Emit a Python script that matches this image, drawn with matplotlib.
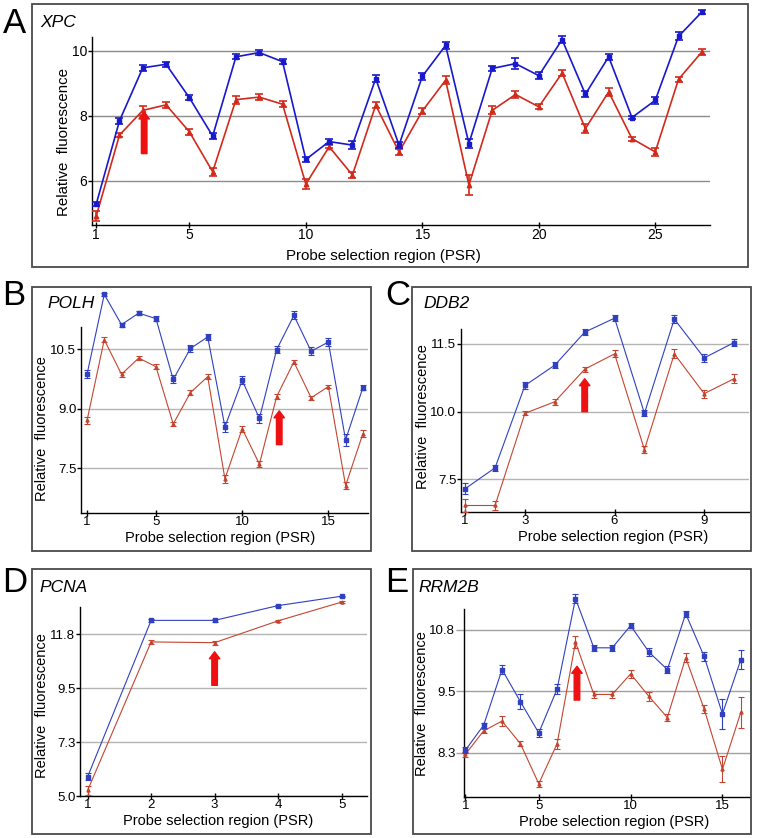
import numpy as np
import matplotlib
matplotlib.use("Agg")
import matplotlib.pyplot as plt
from matplotlib.patches import Rectangle
from matplotlib.ticker import NullLocator

plt.rcParams['font.family'] = ['Liberation Sans', 'DejaVu Sans']

# ---- data ----
# A  XPC
xpc_blue = [5.28, 7.85, 9.48, 9.59, 8.56, 7.38, 9.82, 9.95, 9.67, 6.66, 7.21, 7.10, 9.15, 7.10,
            9.22, 10.17, 7.15, 9.46, 9.61, 9.24, 10.35, 8.67, 9.82, 7.95, 8.48, 10.45, 11.2]
xpc_blue_err = [0.07, 0.1, 0.1, 0.08, 0.08, 0.08, 0.08, 0.07, 0.07, 0.08, 0.08, 0.12, 0.1, 0.1,
                0.1, 0.12, 0.15, 0.08, 0.16, 0.1, 0.1, 0.1, 0.1, 0.06, 0.1, 0.12, 0.07]
xpc_red = [4.91, 7.41, 8.17, 8.34, 7.51, 6.28, 8.50, 8.58, 8.36, 5.90, 7.05, 6.18, 8.33, 6.89,
           8.15, 9.10, 5.87, 8.17, 8.66, 8.28, 9.32, 7.61, 8.74, 7.30, 6.89, 9.13, 9.97]
xpc_red_err = [0.15, 0.07, 0.15, 0.1, 0.1, 0.12, 0.12, 0.1, 0.1, 0.15, 0.05, 0.08, 0.1, 0.1,
               0.1, 0.12, 0.3, 0.12, 0.12, 0.08, 0.1, 0.15, 0.12, 0.06, 0.12, 0.08, 0.08]

# B  POLH
polh_blue = [9.87, 11.88, 11.12, 11.41, 11.27, 9.74, 10.52, 10.81, 8.55, 9.72, 8.76, 10.49,
             11.35, 10.45, 10.68, 8.22, 9.53]
polh_blue_err = [0.1, 0.03, 0.05, 0.06, 0.06, 0.1, 0.08, 0.08, 0.12, 0.1, 0.12, 0.08, 0.1,
                 0.1, 0.1, 0.15, 0.06]
polh_red = [8.71, 10.74, 9.87, 10.28, 10.06, 8.62, 9.41, 9.81, 7.24, 8.50, 7.61, 9.31, 10.18,
            9.28, 9.56, 7.07, 8.37]
polh_red_err = [0.08, 0.07, 0.07, 0.06, 0.06, 0.06, 0.06, 0.06, 0.1, 0.07, 0.07, 0.06, 0.05,
                0.05, 0.04, 0.08, 0.09]

# C  DDB2
ddb2_blue = [7.16, 7.93, 10.58, 11.03, 11.76, 12.07, 9.94, 12.05, 11.19, 11.53]
ddb2_blue_err = [0.2, 0.1, 0.07, 0.07, 0.07, 0.07, 0.1, 0.08, 0.09, 0.08]
ddb2_red = [6.54, 6.54, 9.94, 10.22, 10.94, 11.28, 8.60, 11.28, 10.40, 10.73]
ddb2_red_err = [0.25, 0.15, 0.08, 0.07, 0.06, 0.08, 0.12, 0.1, 0.09, 0.1]

# D  PCNA
pcna_blue = [5.82, 12.39, 12.39, 13.02, 13.42]
pcna_blue_err = [0.15, 0.06, 0.06, 0.04, 0.03]
pcna_red = [5.24, 11.47, 11.44, 12.37, 13.17]
pcna_red_err = [0.2, 0.08, 0.08, 0.05, 0.04]

# E  RRM2B
rrm2b_blue = [8.35, 8.84, 9.96, 9.30, 8.69, 9.55, 11.46, 10.42, 10.42, 10.89, 10.33, 9.96,
              11.14, 10.24, 9.06, 10.17]
rrm2b_blue_err = [0.06, 0.05, 0.1, 0.15, 0.08, 0.1, 0.1, 0.06, 0.06, 0.06, 0.08, 0.07, 0.06,
                  0.1, 0.3, 0.2]
rrm2b_red = [8.27, 8.73, 8.92, 8.48, 7.70, 8.48, 10.54, 9.44, 9.44, 9.87, 9.40, 8.99, 10.21,
             9.16, 7.98, 9.09]
rrm2b_red_err = [0.05, 0.04, 0.1, 0.05, 0.06, 0.1, 0.12, 0.06, 0.06, 0.08, 0.08, 0.07, 0.1,
                 0.08, 0.25, 0.3]

# y tick labels (gridlines equally spaced in the original) and x ticks
xpc_yticks = [6, 8, 10]
polh_yticks = [7.5, 9.0, 10.5]
ddb2_yticks = [7.5, 10.0, 11.5]
pcna_yticks = [5.0, 7.3, 9.5, 11.8]
rrm2b_yticks = [8.3, 9.5, 10.8]
xpc_xticks = [1, 5, 10, 15, 20, 25]
polh_xticks = [1, 5, 10, 15]
ddb2_xticks = [1, 3, 6, 9]
pcna_xticks = [1, 2, 3, 4, 5]
rrm2b_xticks = [1, 5, 10, 15]

# red arrows: (PSR, tail, head)
xpc_arrow = (3.06, 6.84, 8.12)
polh_arrow = (12.15, 8.10, 8.95)
ddb2_arrow = (5.0, 10.0, 10.73)
pcna_arrow = (3.0, 9.62, 11.05)
rrm2b_arrow = (7.08, 9.33, 10.03)

W, H = 757, 838
fig = plt.figure(figsize=(W / 100, H / 100), dpi=100)


def px_axes(l, t, r, b):
    return fig.add_axes([l / W, 1 - b / H, (r - l) / W, (b - t) / H])


def box(l, t, r, b):
    fig.add_artist(Rectangle((l / W, 1 - b / H), (r - l) / W, (b - t) / H,
                             transform=fig.transFigure, fill=False,
                             edgecolor='#4a4a4a', linewidth=1.3))


def grid_scale(ticks):
    # gridlines were drawn evenly spaced whatever their labels say
    t = np.array(ticks, float)
    p = np.arange(len(t), dtype=float)
    lo = t[1] - t[0]
    hi = t[-1] - t[-2]

    def fwd(y):
        y = np.asarray(y, float)
        out = np.interp(y, t, p)
        out = np.where(y < t[0], (y - t[0]) / lo, out)
        return np.where(y > t[-1], p[-1] + (y - t[-1]) / hi, out)

    def inv(u):
        u = np.asarray(u, float)
        out = np.interp(u, p, t)
        out = np.where(u < 0, t[0] + u * lo, out)
        return np.where(u > p[-1], t[-1] + (u - p[-1]) * hi, out)
    return fwd, inv


def panel(ax, blue, blue_err, red, red_err, yticks, ylim, xticks, xlim, arrow, big,
          xlab_pos, ylab_pos, grid_col, ytick_len=4):
    x = np.arange(1, len(blue) + 1)
    ax.set_yscale('function', functions=grid_scale(yticks))
    if big:
        cb, cr, lw, ms, cs = '#1818cc', '#d22a1c', 1.2, 3.2, 2.9
        tsize, lsize = 10, 10.8
    else:
        cb, cr, lw, ms, cs = '#3040bf', '#c4452f', 0.8, 2.2, 1.9
        tsize, lsize = 9.5, 10.5
    for y, e, c, m, z in [(red, red_err, cr, '^', 3), (blue, blue_err, cb, 's', 4)]:
        cont = ax.errorbar(x, y, yerr=e, color=c, ecolor=c, lw=lw, elinewidth=lw,
                           capsize=cs, capthick=lw, marker=m, ms=ms, mec=c, mfc=c, zorder=z)
        for art in cont.get_children():
            art.set_clip_on(False)
    fx, tail, head = arrow
    ax.annotate('', xy=(fx, head), xytext=(fx, tail),
                arrowprops=dict(arrowstyle='simple,head_width=0.75,head_length=0.5,tail_width=0.4',
                                color='#ee1111', shrinkA=0, shrinkB=0, mutation_scale=10),
                zorder=5)
    ax.set_ylim(*ylim)
    ax.set_xlim(*xlim)
    ax.set_yticks(yticks)
    ax.set_yticklabels([str(v) if big else f'{v:.1f}' for v in yticks])
    ax.yaxis.set_minor_locator(NullLocator())
    ax.set_xticks(xticks)
    ax.set_xticklabels([str(v) for v in xticks])
    ax.grid(axis='y', color=grid_col, lw=1.0)
    ax.set_axisbelow(True)
    for s in ['top', 'right']:
        ax.spines[s].set_visible(False)
    for s in ['left', 'bottom']:
        ax.spines[s].set_linewidth(1.0)
    ax.tick_params(axis='y', direction='out', length=ytick_len * 0.72, width=1, pad=0.5,
                   labelsize=tsize)
    if ytick_len > 5:
        ax.tick_params(axis='y', color=grid_col)
    ax.tick_params(axis='x', direction='inout', length=5, width=1, pad=0, labelsize=tsize)
    ax.set_xlabel('Probe selection region (PSR)', fontsize=lsize)
    ax.set_ylabel('Relative  fluorescence', fontsize=lsize)
    ax.xaxis.set_label_coords(*xlab_pos)
    ax.yaxis.set_label_coords(*ylab_pos)
    ax.patch.set_visible(False)


# panel frames
box(32, 4, 748, 267)
box(32, 287, 371, 551)
box(412, 287, 751, 551)
box(32, 569, 371, 834)
box(413, 569, 751, 834)

axA = px_axes(92, 37, 710, 225)
panel(axA, xpc_blue, xpc_blue_err, xpc_red, xpc_red_err, xpc_yticks, (4.64, 10.43),
      xpc_xticks, (0.82, 27.35), xpc_arrow, True, (0.471, -0.13), (-0.034, 0.444), '#8c8c8c')

axB = px_axes(81, 327, 368, 513)
panel(axB, polh_blue, polh_blue_err, polh_red, polh_red_err, polh_yticks, (6.38, 11.06),
      polh_xticks, (0.65, 17.3), polh_arrow, False, (0.485, -0.097), (-0.110, 0.455), '#b4b4b4')

axC = px_axes(461, 329, 749, 512)
panel(axC, ddb2_blue, ddb2_blue_err, ddb2_red, ddb2_red_err, ddb2_yticks, (6.30, 11.83),
      ddb2_xticks, (0.86, 10.5), ddb2_arrow, False, (0.529, -0.101), (-0.108, 0.521), '#b4b4b4')

axD = px_axes(80, 607, 367, 796)
panel(axD, pcna_blue, pcna_blue_err, pcna_red, pcna_red_err, pcna_yticks, (5.0, 12.96),
      pcna_xticks, (0.88, 5.4), pcna_arrow, False, (0.481, -0.095), (-0.108, 0.479), '#b4b4b4')

axE = px_axes(464, 609, 750, 797)
panel(axE, rrm2b_blue, rrm2b_blue_err, rrm2b_red, rrm2b_red_err, rrm2b_yticks, (7.44, 11.24),
      rrm2b_xticks, (0.93, 16.5), rrm2b_arrow, False, (0.526, -0.096), (-0.122, 0.498), '#a0a0a0',
      ytick_len=8)

# panel letters and gene names
for letter, x, yb in [('A', 3, 33), ('B', 2, 305), ('C', 385, 305), ('D', 2, 592), ('E', 385, 592)]:
    fig.text(x / W, 1 - yb / H, letter, fontsize=25, va='baseline', ha='left')
for gene, x, yb in [('XPC', 40, 27), ('POLH', 47, 308), ('DDB2', 423, 308),
                    ('PCNA', 39, 592), ('RRM2B', 418, 592)]:
    fig.text(x / W, 1 - yb / H, gene, fontsize=12.5, style='italic', va='baseline', ha='left')

fig.savefig('out.png', dpi=100)
